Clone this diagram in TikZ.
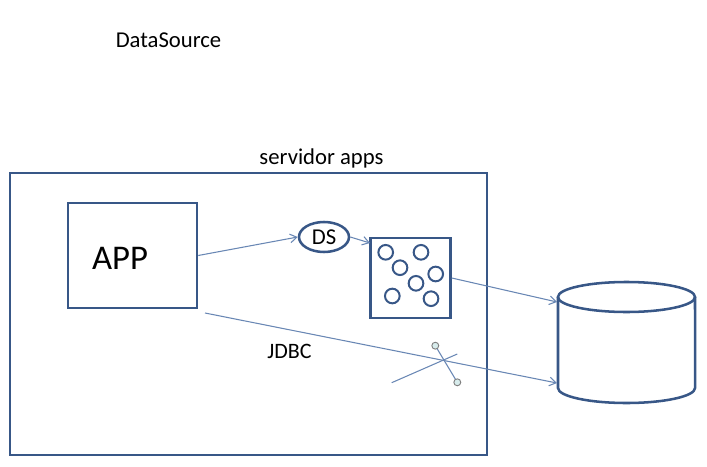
\documentclass[tikz,border=0pt]{standalone}
\usepackage{fontspec}
\setmainfont{Carlito}
\usetikzlibrary{shapes.geometric,arrows.meta}

\definecolor{boxblue}{RGB}{56,87,135}
\definecolor{linkblue}{RGB}{105,135,180}
\definecolor{knobfill}{RGB}{215,236,236}

\tikzset{
    box/.style={draw=boxblue,line width=1.9pt,inner sep=0pt},
    link/.style={->,linkblue,line width=0.8pt},
    label/.style={anchor=base,font=\fontsize{17}{20}\selectfont}
}

\begin{document}
\begin{tikzpicture}[x=0.75pt,y=-0.75pt,>={Straight Barb[length=5pt,width=6.5pt]}]
    \useasboundingbox (0,0) rectangle (707,467);

    % Titles
    \node[label] (title) at (168.5,47.7) {DataSource};
    \node[label] (srvname) at (321.5,164) {servidor apps};

    % Server and application
    \node[box,minimum width=357.75pt,minimum height=211.5pt] (server) at (248.5,314) {};
    \node[box,minimum width=96.75pt,minimum height=78.75pt] (app) at (132.5,255.5) {};
    \node[anchor=base,font=\fontsize{26}{30}\selectfont] (apptext) at (120,269.3) {APP};

    % DataSource and pool
    \node[box,ellipse,minimum width=37.5pt,minimum height=22.5pt,font=\fontsize{17}{20}\selectfont] (ds) at (324,237) {DS};
    \node[box,minimum width=60pt,minimum height=60pt] (pool) at (410.5,278) {};
    \foreach \cx/\cy in {385.7/252.3,421/252.3,400/267.7,435.7/274,416/283.3,392.3/296,431/298.7}
        \draw[boxblue,line width=1.5pt] (\cx,\cy) circle (5.5pt);

    % Database
    \draw[boxblue,line width=1.9pt] (558,297) -- (558,388)
        arc[start angle=180,end angle=360,x radius=51.4pt,y radius=11.25pt] -- (695,297);
    \draw[boxblue,line width=1.9pt] (626.5,297) ellipse [x radius=51.4pt,y radius=11.25pt];

    % Connections
    \coordinate (poolin) at (370,243);
    \coordinate (dbtop) at (557,302);
    \coordinate (dbbot) at (557,383);
    \coordinate (jdbc) at (205,313);
    \draw[link] (app.east) -- (ds.west);
    \draw[link] (ds.east) -- (poolin);
    \draw[link] (pool.east) -- (dbtop);
    \draw[link] (jdbc) -- (dbbot);
    \node[label,font=\fontsize{16.5}{20}\selectfont] (jdbctext) at (289.5,358.3) {JDBC};

    % Cut mark
    \coordinate (cutA) at (391.7,382.7);
    \coordinate (cutB) at (457.3,354);
    \coordinate (knobA) at (435.3,345.7);
    \coordinate (knobB) at (457.3,382.3);
    \draw[linkblue,line width=0.8pt] (cutA) -- (cutB);
    \draw[linkblue,line width=0.8pt] (knobA) -- (knobB);
    \draw[gray,fill=knobfill,line width=0.7pt] (knobA) circle (2.6pt);
    \draw[gray,fill=knobfill,line width=0.7pt] (knobB) circle (2.6pt);
\end{tikzpicture}
\end{document}
